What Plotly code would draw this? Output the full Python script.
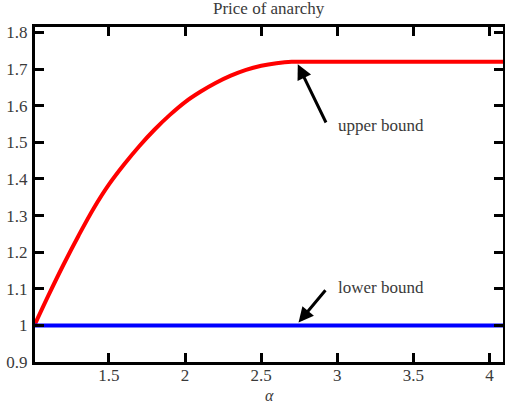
import plotly.graph_objects as go

# values
alpha = [1.01, 1.1, 1.2, 1.3, 1.4, 1.5, 1.6, 1.7, 1.8, 1.9, 2.0, 2.1, 2.2, 2.3,
         2.4, 2.5, 2.6, 2.7, 2.8, 3.0, 3.5, 4.0, 4.09]
upper = [1.0, 1.08, 1.165, 1.245, 1.32, 1.385, 1.44, 1.49, 1.535, 1.575, 1.61,
         1.638, 1.662, 1.682, 1.698, 1.709, 1.716, 1.72, 1.72, 1.72, 1.72, 1.72, 1.72]
lower = [1.0] * len(alpha)

x_ticks = [1.5, 2, 2.5, 3, 3.5, 4]
y_ticks = [0.9, 1, 1.1, 1.2, 1.3, 1.4, 1.5, 1.6, 1.7, 1.8]

serif = "Liberation Serif"
txt = "#3a3a3a"

fig = go.Figure()
fig.add_trace(go.Scatter(x=alpha, y=upper, mode="lines", line=dict(color="#ff0000", width=4),
                         line_shape="spline"))
fig.add_trace(go.Scatter(x=alpha, y=lower, mode="lines", line=dict(color="#0000ff", width=4)))

axis_style = dict(showline=True, linecolor="black", linewidth=3, mirror="ticks",
                  ticks="inside", ticklen=9, tickwidth=3, tickcolor="black",
                  showgrid=False, zeroline=False, automargin=False,
                  tickfont=dict(family=serif, size=17, color=txt))

fig.update_xaxes(range=[1.014, 4.088], tickvals=x_ticks,
                 ticktext=[f"{v:g}" for v in x_ticks], ticklabelstandoff=-4, **axis_style)
fig.update_yaxes(range=[0.9, 1.815], tickvals=y_ticks,
                 ticktext=[f"{v:g}" for v in y_ticks], ticklabelstandoff=1, **axis_style)

# x axis label
fig.add_annotation(x=0.5, y=-0.07, xref="paper", yref="paper", text="<i>α</i>", showarrow=False,
                   yanchor="top", font=dict(family=serif, size=16, color=txt))

# arrows with labels
fig.add_annotation(x=2.74, y=1.713, ax=2.93, ay=1.55, xref="x", yref="y", axref="x", ayref="y",
                   showarrow=True, arrowhead=2, arrowsize=1, arrowwidth=3, arrowcolor="black", text="")
fig.add_annotation(x=2.745, y=1.008, ax=2.93, ay=1.1, xref="x", yref="y", axref="x", ayref="y",
                   showarrow=True, arrowhead=2, arrowsize=1, arrowwidth=3, arrowcolor="black", text="")
fig.add_annotation(x=2.99, y=1.546, text="upper bound", showarrow=False, xanchor="left",
                   font=dict(family=serif, size=17, color=txt))
fig.add_annotation(x=2.99, y=1.104, text="lower bound", showarrow=False, xanchor="left",
                   font=dict(family=serif, size=17, color=txt))

fig.update_layout(
    width=505, height=407,
    margin=dict(l=35, r=2, t=27, b=45),
    paper_bgcolor="white", plot_bgcolor="white",
    showlegend=False,
    title=dict(text="Price of anarchy", x=0.532, xanchor="center", y=0.995, yanchor="top",
               font=dict(family=serif, size=17, color=txt), automargin=False),
)

# drop the browser's default 8px body margin so the figure sits at the page corner
fig.write_html("out.html", config={"displayModeBar": False},
               post_script="document.body.style.margin='0';")
